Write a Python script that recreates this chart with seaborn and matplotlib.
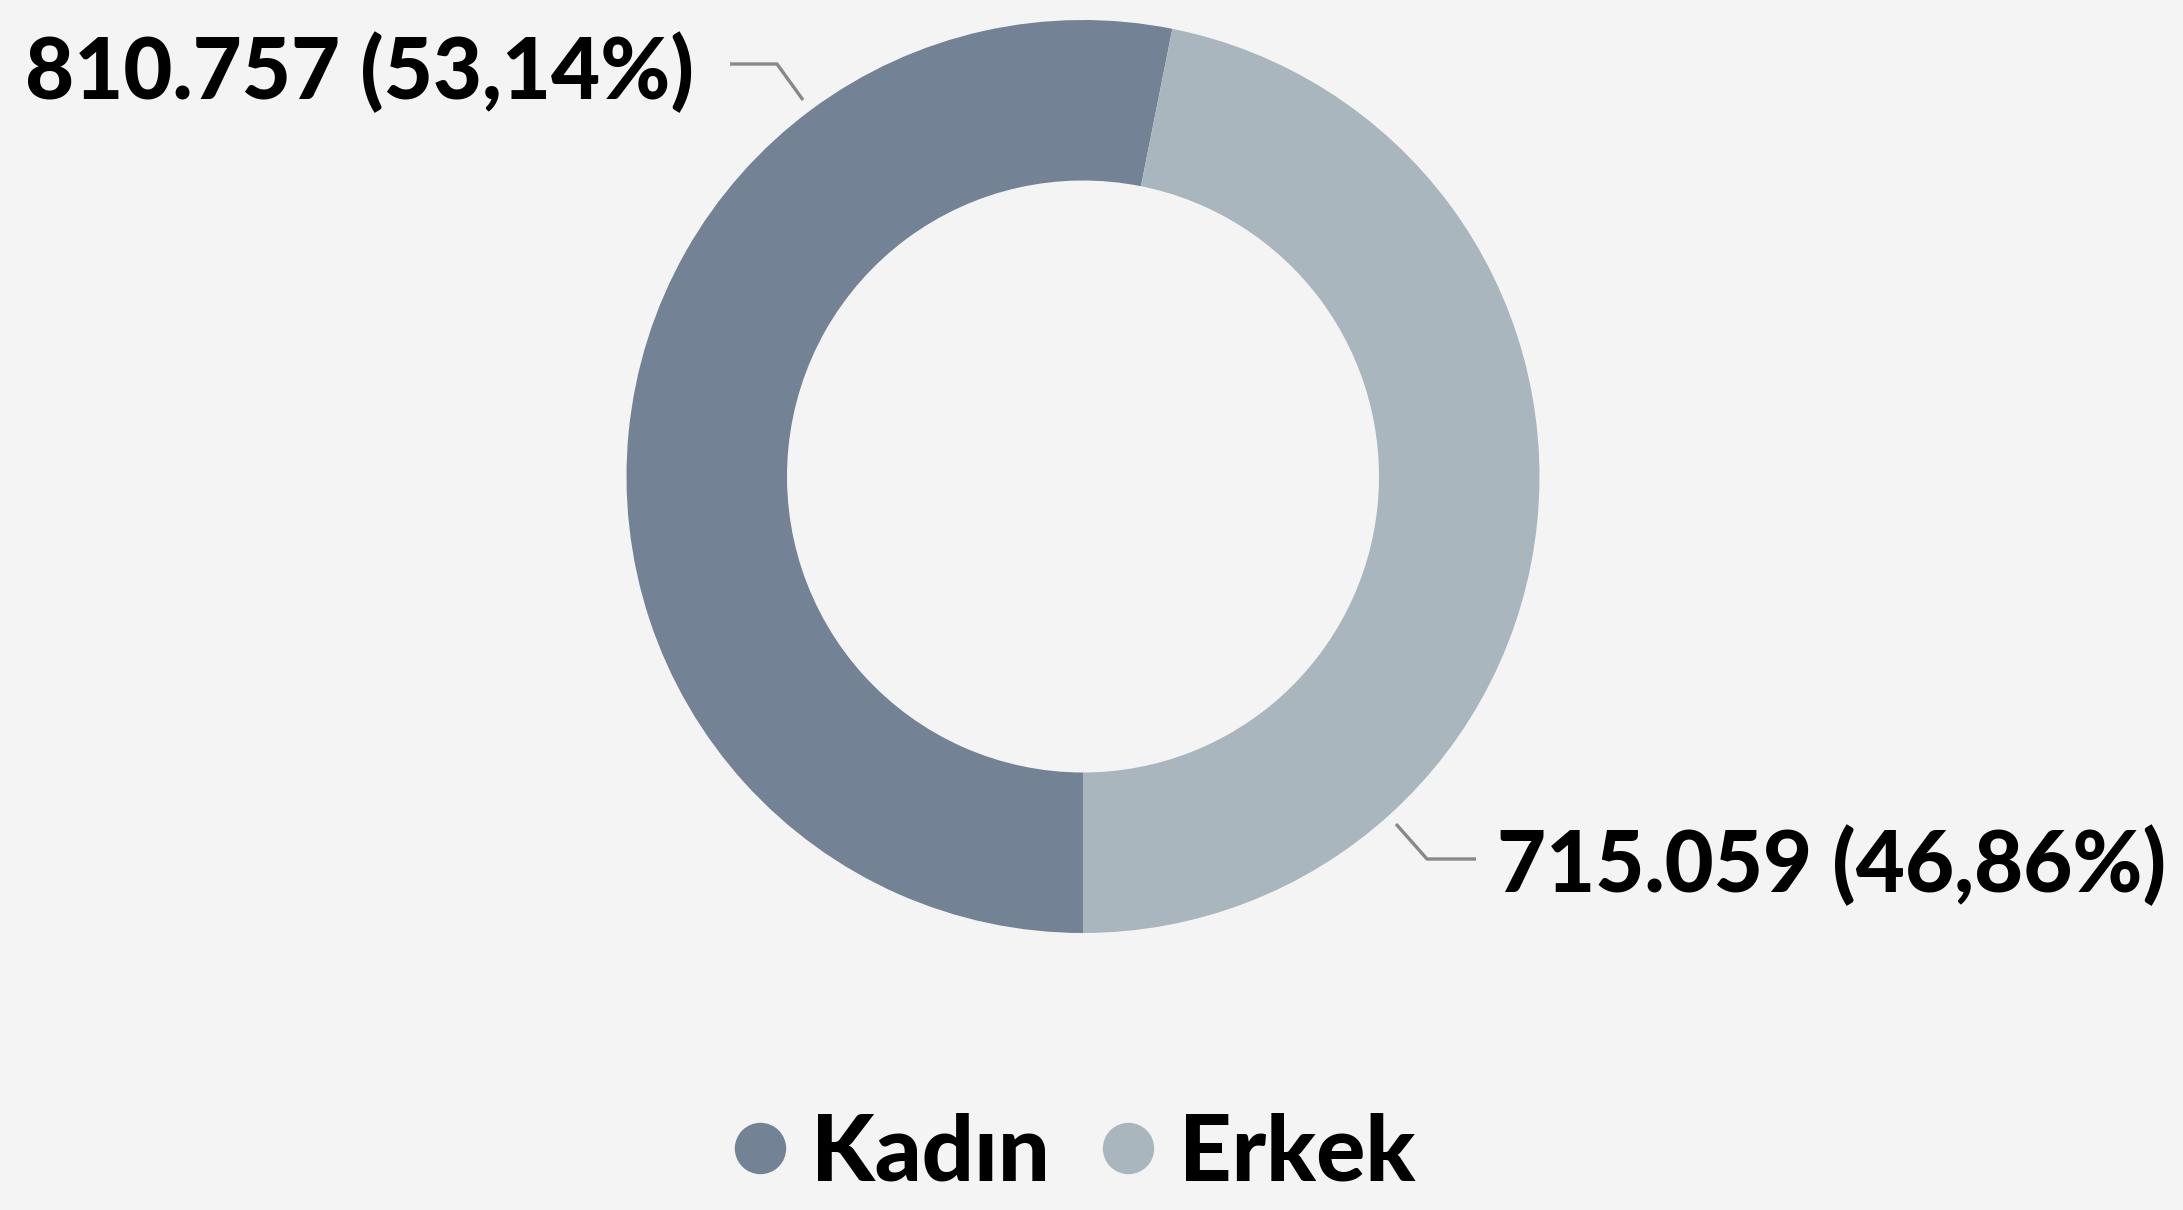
import matplotlib
matplotlib.use("Agg")
import matplotlib.pyplot as plt
from matplotlib.lines import Line2D
import seaborn as sns

# ---- data ----
categories = ["Kadın", "Erkek"]
values = [810757, 715059]
value_labels = ["810.757 (53,14%)", "715.059 (46,86%)"]
colors = ["#738294", "#aab6be"]

sns.set_theme(style="white")
plt.rcParams["font.family"] = ["Lato", "DejaVu Sans"]
plt.rcParams["font.weight"] = "bold"
plt.rcParams["text.color"] = "black"

W, H = 2183, 1210
BG = "#f4f4f4"
fig = plt.figure(figsize=(W / 100, H / 100), dpi=100, facecolor=BG)
ax = fig.add_axes([0, 0, 1, 1])
ax.set_facecolor(BG)

cx, cy = 1083, H - 476.5
R = 456.5
wedges, _ = ax.pie(values, colors=colors, startangle=-90, counterclock=False,
                   center=(cx, cy), radius=R, frame=True,
                   wedgeprops=dict(width=R - 296, linewidth=0))
ax.set_xlim(0, W)
ax.set_ylim(0, H)
ax.axis("off")

# leader lines
lc = "#888888"
ax.plot([730, 777, 803], [H - 64, H - 64, H - 100], color=lc, lw=2.4, solid_capstyle="butt")
ax.plot([1396, 1427, 1476], [H - 824, H - 859, H - 859], color=lc, lw=2.4, solid_capstyle="butt")

# value labels
ax.text(25, H - 99, value_labels[0], fontsize=61, fontweight="black", color="black",
        ha="left", va="baseline")
ax.text(1497, H - 892, value_labels[1], fontsize=61, fontweight="black", color="black",
        ha="left", va="baseline")

# legend
handles = [Line2D([0], [0], marker="o", linestyle="none", markersize=37,
                  markerfacecolor=c, markeredgewidth=0) for c in colors]
leg = fig.legend(handles, categories, loc="center", bbox_to_anchor=(0.492, 0.046),
                 ncol=2, frameon=False, handlelength=0.6, handletextpad=0.26,
                 columnspacing=0.55, labelcolor="black",
                 prop=dict(family=["Lato", "DejaVu Sans"], weight="black", size=66))

fig.savefig("out.png", dpi=100, facecolor=BG)
